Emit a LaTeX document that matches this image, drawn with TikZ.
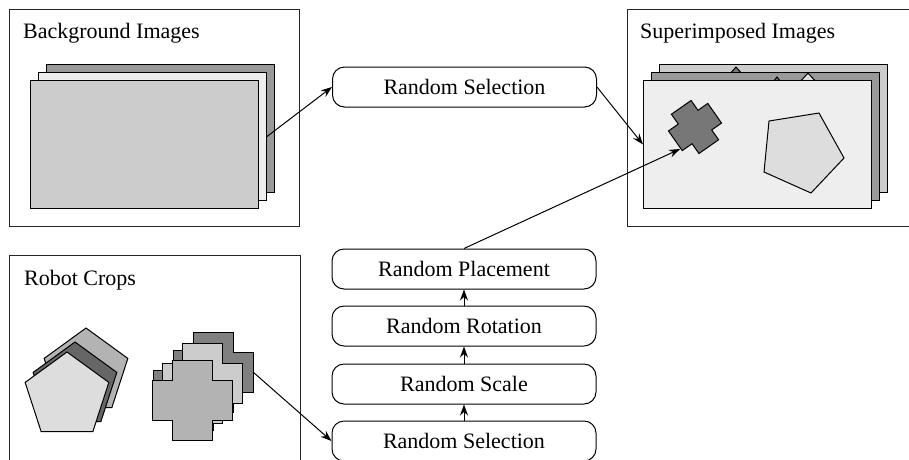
\documentclass[tikz,border=0pt]{standalone}
\usepackage{fontspec}
\setmainfont{Liberation Serif}
\newfontfamily\diagfont{Liberation Serif}
\usetikzlibrary{arrows.meta}
\definecolor{gA}{HTML}{999999}
\definecolor{gB}{HTML}{EEEEEE}
\definecolor{gC}{HTML}{CCCCCC}
\definecolor{gD}{HTML}{DDDDDD}
\definecolor{gE}{HTML}{B3B3B3}
\definecolor{gF}{HTML}{666666}
\definecolor{gG}{HTML}{808080}
\definecolor{gH}{HTML}{777777}
\newcommand\plusshape[4]{% fill, cx, cy, extra options
  \draw[shapeline, fill=#1, shift={(#2,#3)}, #4]
    (-20,-40) -- (20,-40) -- (20,-20) -- (40,-20) -- (40,20) -- (20,20) --
    (20,40) -- (-20,40) -- (-20,20) -- (-40,20) -- (-40,-20) -- (-20,-20) -- cycle;}
\newcommand\pentshape[4]{% fill, cx, cy, R
  \draw[shapeline, fill=#1, shift={(#2,#3)}]
    (-90:#4) -- (-18:#4) -- (54:#4) -- (126:#4) -- (198:#4) -- cycle;}
\begin{document}
\begin{tikzpicture}[x=1pt,y=-1pt,
  font=\diagfont\fontsize{22}{26}\selectfont,
  panel/.style={draw=black!85, line width=1pt, inner sep=0pt, anchor=north west},
  sheet/.style={draw=black, line width=1pt, inner sep=0pt, minimum width=228pt, minimum height=128pt, anchor=north west},
  procbox/.style={draw=black, line width=1pt, rounded corners=12pt, minimum width=264pt, minimum height=40pt, text height=15pt, text depth=0pt, inner sep=0pt},
  title/.style={anchor=base west, inner sep=0pt},
  conn/.style={line width=1pt, -{Stealth[length=11pt,width=8pt]}},
  shapeline/.style={draw=black, line width=1pt, line join=miter}
]
\useasboundingbox (0,0) rectangle (909,459);
\fill[white] (0,0) rectangle (909,459);

% ---------- Background Images panel ----------
\node[panel, minimum width=290pt, minimum height=217pt] (bgpanel) at (9,9) {};
\node[title] (bgtitle) at (23,38) {Background Images};
\node[sheet, fill=gA] (bgback) at (46,64) {};
\node[sheet, fill=gB] (bgmid) at (38,72) {};
\node[sheet, fill=gC] (bgfront) at (30,80) {};

% ---------- Superimposed Images panel ----------
\node[panel, minimum width=300pt, minimum height=217pt] (suppanel) at (627,9) {};
\node[title] (suptitle) at (640,38) {Superimposed Images};
\node[sheet, fill=gC] (supback) at (659,64) {};
\draw[shapeline, fill=gH] (728,76) -- (736,67) -- (744,76) -- cycle;
\node[sheet, fill=gA] (supmid) at (651,72) {};
\draw[shapeline, fill=gH] (773,82) -- (777,77) -- (781,82) -- cycle;
\draw[shapeline, fill=gD] (798,84) -- (808,73) -- (818,84) -- cycle;
\node[sheet, fill=gB] (supfront) at (643,80) {};
\plusshape{gH}{695}{127}{rotate=35, scale=0.6}
\draw[shapeline, fill=gD] (769,121) -- (819,113) -- (844,158) -- (811,193) -- (764,172) -- cycle;
\coordinate (crosstarget) at (680,149);

% ---------- Robot Crops panel ----------
\node[panel, minimum width=291pt, minimum height=230pt] (robpanel) at (9,255) {};
\node[title] (robtitle) at (24,285) {Robot Crops};
\pentshape{gE}{86}{372}{44}
\pentshape{gF}{75}{386}{44}
\pentshape{gD}{67}{396}{44}
\plusshape{gG}{213}{372}{}
\plusshape{gG}{193}{390}{}
\plusshape{gC}{202}{383}{}
\plusshape{gE}{192}{400}{}
\coordinate (crossout) at (253,372);

% ---------- Process boxes ----------
\node[procbox] (sel1) at (464.5,87) {Random Selection};
\node[procbox] (place) at (464,269) {Random Placement};
\node[procbox] (rot) at (464,326) {Random Rotation};
\node[procbox] (scale) at (464,384) {Random Scale};
\node[procbox] (sel2) at (464,441) {Random Selection};

% ---------- Connectors ----------
\draw[conn] (bgmid.east) -- (sel1.west);
\draw[conn] (sel1.east) -- (supfront.west);
\draw[conn] (place.north) -- (crosstarget);
\draw[conn] (crossout) -- (sel2.west);
\draw[conn] (sel2.north) -- (scale.south);
\draw[conn] (scale.north) -- (rot.south);
\draw[conn] (rot.north) -- (place.south);
\end{tikzpicture}
\end{document}
